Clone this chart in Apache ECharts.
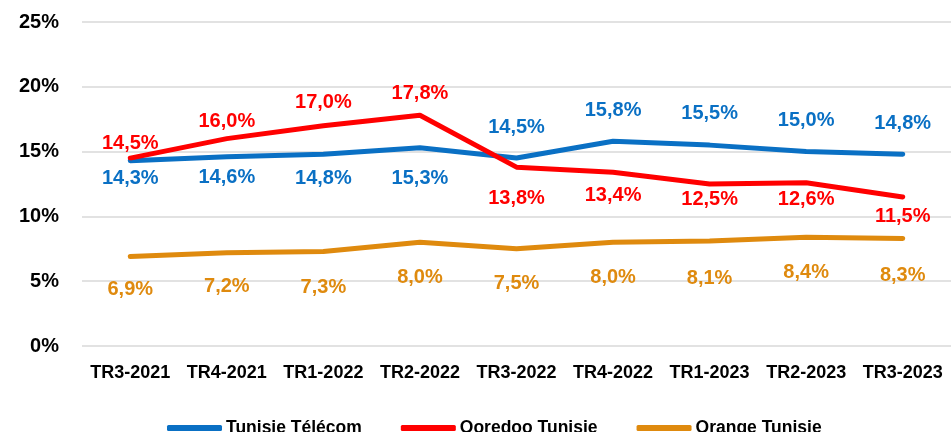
<!DOCTYPE html>
<html>
<head>
<meta charset="utf-8">
<script src="https://cdn.jsdelivr.net/npm/echarts@6/dist/echarts.min.js"></script>
<style>
  html, body { margin: 0; padding: 0; background: #fff; }
  #chart { width: 951px; height: 432px; }
</style>
</head>
<body>
<div id="chart"></div>
<script>
// trimestres
const categories = ['TR3-2021', 'TR4-2021', 'TR1-2022', 'TR2-2022', 'TR3-2022', 'TR4-2022', 'TR1-2023', 'TR2-2023', 'TR3-2023']
const yTicks = [0, 5, 10, 15, 20, 25]
const tunisieTelecom = [14.3, 14.6, 14.8, 15.3, 14.5, 15.8, 15.5, 15.0, 14.8]
const ooredoo = [14.5, 16.0, 17.0, 17.8, 13.8, 13.4, 12.5, 12.6, 11.5]
const orange = [6.9, 7.2, 7.3, 8.0, 7.5, 8.0, 8.1, 8.4, 8.3]

// vertical shift of each data label (px), like the excel layout
const ttLabelDy = [18, 21, 24, 31, -31, -31, -32, -31, -31]
const ooLabelDy = [-15, -17, -23, -22, 31, 23, 15, 17, 20]
const orLabelDy = [33, 34, 36, 35, 35, 35, 37, 35, 37]

const FONT = '"Liberation Sans", Arial, sans-serif'
const fmt = v => v.toFixed(1).replace('.', ',') + '%'

function makeSeries(name, values, shifts, color) {
  return {
    name,
    type: 'line',
    symbol: 'circle',
    symbolSize: 1,
    color,
    lineStyle: { width: 5, color, cap: 'round', join: 'round' },
    itemStyle: { color },
    data: values.map((v, i) => ({
      value: v,
      label: { offset: [0, shifts[i]] }
    })),
    label: {
      show: true,
      position: 'inside',
      color,
      fontFamily: FONT,
      fontWeight: 'bold',
      fontSize: 20,
      formatter: p => fmt(p.value)
    },
    emphasis: { disabled: true },
    animation: false
  }
}

const chart = echarts.init(document.getElementById('chart'))
chart.setOption({
  backgroundColor: '#fff',
  grid: { left: 82, top: 22, width: 874, height: 324 },
  legend: {
    top: 413,
    left: 162,
    icon: 'roundRect',
    itemWidth: 55,
    itemHeight: 6,
    itemGap: 39,
    textStyle: { fontFamily: FONT, fontWeight: 'bold', fontSize: 17.5, lineHeight: 20, color: '#000', padding: [0, 0, 0, -1] },
    data: ['Tunisie Télécom', 'Ooredoo Tunisie', 'Orange Tunisie']
  },
  xAxis: {
    type: 'category',
    data: categories,
    boundaryGap: true,
    axisLine: { show: false },
    axisTick: { show: false },
    axisLabel: {
      margin: 18,
      color: '#000',
      fontFamily: FONT,
      fontWeight: 'bold',
      fontSize: 18,
      interval: 0
    }
  },
  yAxis: {
    type: 'value',
    min: yTicks[0],
    max: yTicks[yTicks.length - 1],
    interval: yTicks[1] - yTicks[0],
    axisLine: { show: false },
    axisTick: { show: false },
    splitLine: { lineStyle: { color: '#d9d9d9', width: 1.5 } },
    axisLabel: {
      margin: 23,
      color: '#000',
      fontFamily: FONT,
      fontWeight: 'bold',
      fontSize: 20,
      formatter: '{value}%'
    }
  },
  series: [
    makeSeries('Tunisie Télécom', tunisieTelecom, ttLabelDy, '#0A70C4'),
    makeSeries('Ooredoo Tunisie', ooredoo, ooLabelDy, '#FF0000'),
    makeSeries('Orange Tunisie', orange, orLabelDy, '#DF8A0E')
  ]
})
</script>
</body>
</html>
